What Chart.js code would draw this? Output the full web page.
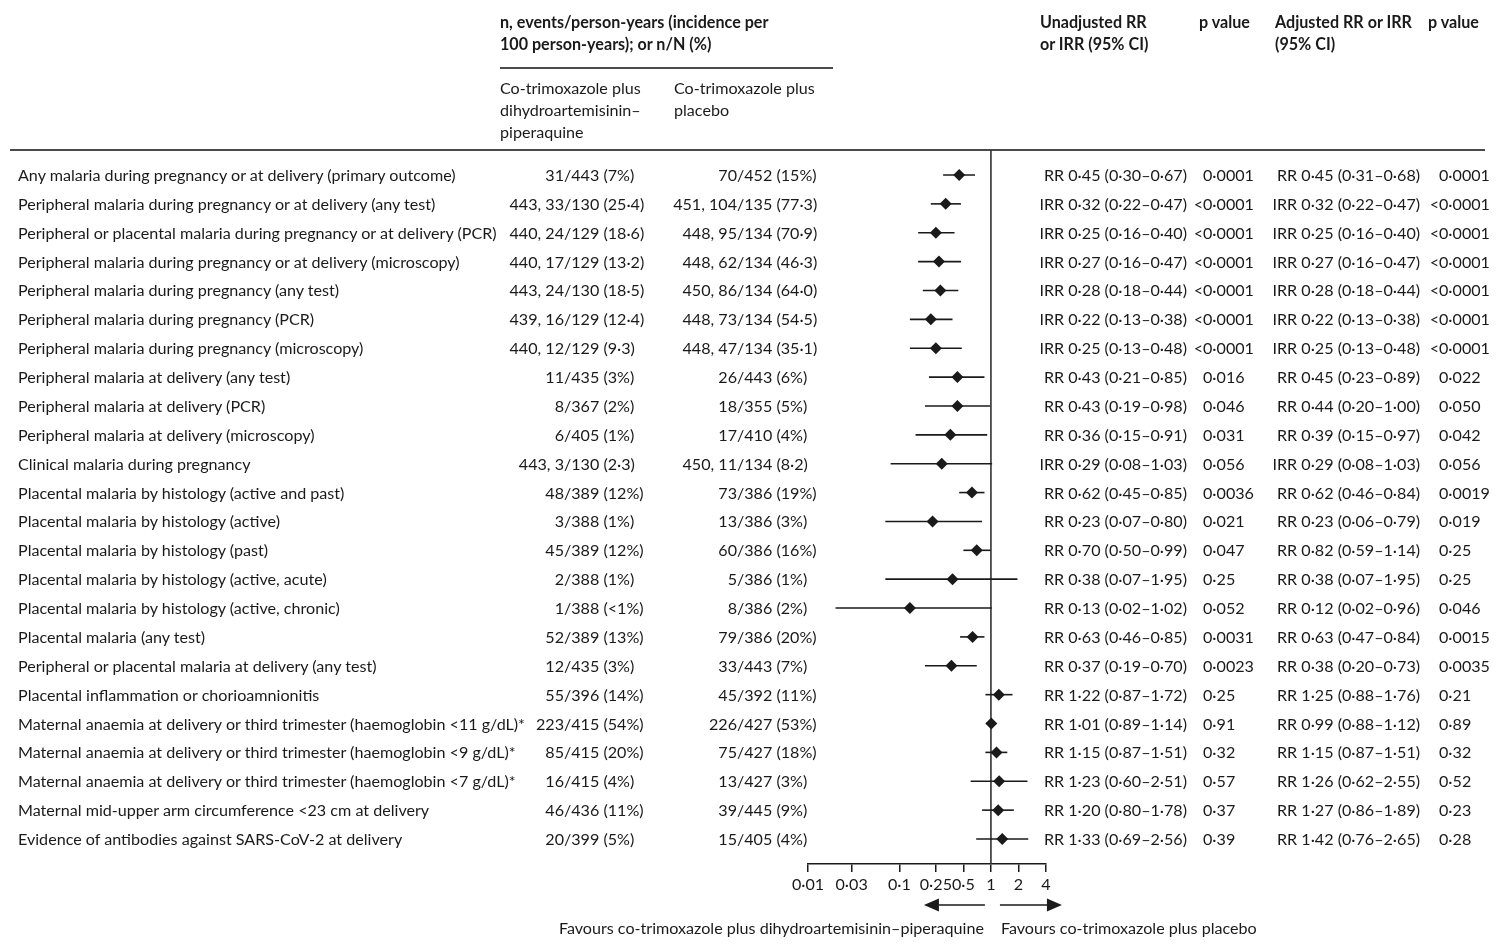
<!DOCTYPE html>
<html>
<head>
<meta charset="utf-8">
<script src="https://cdn.jsdelivr.net/npm/chart.js@4.4.1/dist/chart.umd.min.js"></script>
<style>
  html, body { margin: 0; padding: 0; background: #fff; }
  #wrap { position: relative; width: 1500px; height: 949px; overflow: hidden; font-family: Lato, "Noto Sans", sans-serif; color: #1a1a1a; }
  #chart { position: absolute; left: 0; top: 0; }
  .t { position: absolute; white-space: nowrap; height: 20px; line-height: 20px; }
  .hang { position: absolute; right: 100%; }
  .hd { font-weight: bold; }
</style>
</head>
<body>
<div id="wrap">
  <canvas id="chart" width="1500" height="949"></canvas>
  <div id="overlay"></div>
</div>
<script>
const outcomes = [
  'Any malaria during pregnancy or at delivery (primary outcome)',
  'Peripheral malaria during pregnancy or at delivery (any test)',
  'Peripheral or placental malaria during pregnancy or at delivery (PCR)',
  'Peripheral malaria during pregnancy or at delivery (microscopy)',
  'Peripheral malaria during pregnancy (any test)',
  'Peripheral malaria during pregnancy (PCR)',
  'Peripheral malaria during pregnancy (microscopy)',
  'Peripheral malaria at delivery (any test)',
  'Peripheral malaria at delivery (PCR)',
  'Peripheral malaria at delivery (microscopy)',
  'Clinical malaria during pregnancy',
  'Placental malaria by histology (active and past)',
  'Placental malaria by histology (active)',
  'Placental malaria by histology (past)',
  'Placental malaria by histology (active, acute)',
  'Placental malaria by histology (active, chronic)',
  'Placental malaria (any test)',
  'Peripheral or placental malaria at delivery (any test)',
  'Placental inflammation or chorioamnionitis',
  'Maternal anaemia at delivery or third trimester (haemoglobin <11 g/dL)*',
  'Maternal anaemia at delivery or third trimester (haemoglobin <9 g/dL)*',
  'Maternal anaemia at delivery or third trimester (haemoglobin <7 g/dL)*',
  'Maternal mid-upper arm circumference <23 cm at delivery',
  'Evidence of antibodies against SARS-CoV-2 at delivery'
];

const dpCounts = [
  '31/443 (7%)', '443, 33/130 (25·4)', '440, 24/129 (18·6)', '440, 17/129 (13·2)',
  '443, 24/130 (18·5)', '439, 16/129 (12·4)', '440, 12/129 (9·3)', '11/435 (3%)',
  '8/367 (2%)', '6/405 (1%)', '443, 3/130 (2·3)', '48/389 (12%)',
  '3/388 (1%)', '45/389 (12%)', '2/388 (1%)', '1/388 (<1%)',
  '52/389 (13%)', '12/435 (3%)', '55/396 (14%)', '223/415 (54%)',
  '85/415 (20%)', '16/415 (4%)', '46/436 (11%)', '20/399 (5%)'
];

const placeboCounts = [
  '70/452 (15%)', '451, 104/135 (77·3)', '448, 95/134 (70·9)', '448, 62/134 (46·3)',
  '450, 86/134 (64·0)', '448, 73/134 (54·5)', '448, 47/134 (35·1)', '26/443 (6%)',
  '18/355 (5%)', '17/410 (4%)', '450, 11/134 (8·2)', '73/386 (19%)',
  '13/386 (3%)', '60/386 (16%)', '5/386 (1%)', '8/386 (2%)',
  '79/386 (20%)', '33/443 (7%)', '45/392 (11%)', '226/427 (53%)',
  '75/427 (18%)', '13/427 (3%)', '39/445 (9%)', '15/405 (4%)'
];

const measure = ['RR', 'IRR', 'IRR', 'IRR', 'IRR', 'IRR', 'IRR', 'RR', 'RR', 'RR', 'IRR', 'RR',
  'RR', 'RR', 'RR', 'RR', 'RR', 'RR', 'RR', 'RR', 'RR', 'RR', 'RR', 'RR'];

// unadjusted estimates (these are the ones plotted)
const rrEst  = [0.45, 0.32, 0.25, 0.27, 0.28, 0.22, 0.25, 0.43, 0.43, 0.36, 0.29, 0.62, 0.23, 0.70, 0.38, 0.13, 0.63, 0.37, 1.22, 1.01, 1.15, 1.23, 1.20, 1.33];
const rrLow  = [0.30, 0.22, 0.16, 0.16, 0.18, 0.13, 0.13, 0.21, 0.19, 0.15, 0.08, 0.45, 0.07, 0.50, 0.07, 0.02, 0.46, 0.19, 0.87, 0.89, 0.87, 0.60, 0.80, 0.69];
const rrHigh = [0.67, 0.47, 0.40, 0.47, 0.44, 0.38, 0.48, 0.85, 0.98, 0.91, 1.03, 0.85, 0.80, 0.99, 1.95, 1.02, 0.85, 0.70, 1.72, 1.14, 1.51, 2.51, 1.78, 2.56];
const pUnadj = ['0·0001', '<0·0001', '<0·0001', '<0·0001', '<0·0001', '<0·0001', '<0·0001', '0·016',
  '0·046', '0·031', '0·056', '0·0036', '0·021', '0·047', '0·25', '0·052',
  '0·0031', '0·0023', '0·25', '0·91', '0·32', '0·57', '0·37', '0·39'];

const adjEst  = [0.45, 0.32, 0.25, 0.27, 0.28, 0.22, 0.25, 0.45, 0.44, 0.39, 0.29, 0.62, 0.23, 0.82, 0.38, 0.12, 0.63, 0.38, 1.25, 0.99, 1.15, 1.26, 1.27, 1.42];
const adjLow  = [0.31, 0.22, 0.16, 0.16, 0.18, 0.13, 0.13, 0.23, 0.20, 0.15, 0.08, 0.46, 0.06, 0.59, 0.07, 0.02, 0.47, 0.20, 0.88, 0.88, 0.87, 0.62, 0.86, 0.76];
const adjHigh = [0.68, 0.47, 0.40, 0.47, 0.44, 0.38, 0.48, 0.89, 1.00, 0.97, 1.03, 0.84, 0.79, 1.14, 1.95, 0.96, 0.84, 0.73, 1.76, 1.12, 1.51, 2.55, 1.89, 2.65];
const pAdj = ['0·0001', '<0·0001', '<0·0001', '<0·0001', '<0·0001', '<0·0001', '<0·0001', '0·022',
  '0·050', '0·042', '0·056', '0·0019', '0·019', '0·25', '0·25', '0·046',
  '0·0015', '0·0035', '0·21', '0·89', '0·32', '0·52', '0·23', '0·28'];

const tickValues = [0.01, 0.03, 0.1, 0.25, 0.5, 1, 2, 4];

const W = 1500;
const yMin = -0.866, yMax = 23.866;
const ink = '#1a1a1a';

function fmt(v) { return v.toFixed(2).replace('.', '\u00b7'); }
function ciText(m, e, lo, hi) { return m + ' ' + fmt(e) + ' (' + fmt(lo) + '\u2013' + fmt(hi) + ')'; }

// pick a body size so the first label is about as wide as in the source
const mctx = document.createElement('canvas').getContext('2d');
mctx.font = '100px Lato';
const bodySize = Math.max(13, Math.min(17, 440 * 100 / mctx.measureText(outcomes[0]).width));
document.getElementById('wrap').style.fontSize = bodySize.toFixed(2) + 'px';

const overlay = document.getElementById('overlay');

function addText(txt, x, y, opts) {
  opts = opts || {};
  const d = document.createElement('div');
  d.className = 't' + (opts.cls ? ' ' + opts.cls : '');
  d.style.top = (y - 10) + 'px';
  if (opts.align === 'right') d.style.right = (W - x) + 'px';
  else d.style.left = x + 'px';
  if (opts.hang) {
    const s = document.createElement('span');
    s.className = 'hang';
    s.textContent = opts.hang;
    d.appendChild(s);
  }
  d.appendChild(document.createTextNode(txt));
  overlay.appendChild(d);
}

// counts are lined up on the slash
function addSlashed(txt, slashX, y) {
  const k = txt.indexOf('/');
  addText(txt.slice(0, k), slashX, y, { align: 'right' });
  addText(txt.slice(k), slashX, y);
}

function addHanging(txt, ch, x, y) {
  if (txt.startsWith(ch)) addText(txt.slice(ch.length), x, y, { hang: ch });
  else addText(txt, x, y);
}

let built = false;
function buildTable(chart) {
  const ys = chart.scales.y;
  const xs = chart.scales.x;

  // headers
  addText('n, events/person-years (incidence per', 500, 22, { cls: 'hd' });
  addText('100 person-years); or n/N (%)', 500, 44, { cls: 'hd' });
  addText('Co-trimoxazole plus', 500, 88);
  addText('dihydroartemisinin\u2013', 500, 110);
  addText('piperaquine', 500, 132);
  addText('Co-trimoxazole plus', 674, 88);
  addText('placebo', 674, 110);
  addText('Unadjusted RR', 1040, 22, { cls: 'hd' });
  addText('or IRR (95% CI)', 1040, 44, { cls: 'hd' });
  addText('p value', 1199, 22, { cls: 'hd' });
  addText('Adjusted RR or IRR', 1275, 22, { cls: 'hd' });
  addText('(95% CI)', 1275, 44, { cls: 'hd' });
  addText('p value', 1428, 22, { cls: 'hd' });

  outcomes.forEach((o, i) => {
    const y = ys.getPixelForValue(i);
    addText(o, 18, y);
    addSlashed(dpCounts[i], 564, y);
    addSlashed(placeboCounts[i], 737, y);
    addText(ciText(measure[i], rrEst[i], rrLow[i], rrHigh[i]), 1187, y, { align: 'right' });
    addHanging(pUnadj[i], '<', 1203, y);
    const adj = ciText(measure[i], adjEst[i], adjLow[i], adjHigh[i]);
    addHanging(adj, 'I', 1277, y);
    addHanging(pAdj[i], '<', 1439, y);
  });

  const one = xs.getPixelForValue(1);
  addText('Favours co-trimoxazole plus dihydroartemisinin\u2013piperaquine', one - 7, 928, { align: 'right' });
  addText('Favours co-trimoxazole plus placebo', one + 10, 928);
}

const tablePlugin = {
  id: 'tableText',
  beforeDraw(chart) {
    const ctx = chart.ctx;
    ctx.save();
    ctx.strokeStyle = '#4a4a4a';
    ctx.lineWidth = 2;
    ctx.beginPath();
    ctx.moveTo(500, 68); ctx.lineTo(833, 68);
    ctx.moveTo(10, 150); ctx.lineTo(1485, 150);
    ctx.stroke();
    ctx.restore();
  },
  afterDraw(chart) {
    const ctx = chart.ctx;
    const one = chart.scales.x.getPixelForValue(1);
    const ay = 905;
    ctx.save();
    ctx.strokeStyle = ink;
    ctx.fillStyle = ink;
    ctx.lineWidth = 1.6;
    ctx.beginPath();
    ctx.moveTo(one - 6, ay); ctx.lineTo(one - 52, ay);
    ctx.moveTo(one + 9, ay); ctx.lineTo(one + 58, ay);
    ctx.stroke();
    ctx.beginPath();
    ctx.moveTo(one - 67, ay); ctx.lineTo(one - 52, ay - 6.5); ctx.lineTo(one - 52, ay + 6.5); ctx.closePath();
    ctx.moveTo(one + 71, ay); ctx.lineTo(one + 56, ay - 6.5); ctx.lineTo(one + 56, ay + 6.5); ctx.closePath();
    ctx.fill();
    ctx.restore();
    if (!built) { built = true; buildTable(chart); }
  }
};

const diamonds = {
  data: rrEst.map((v, i) => ({ x: v, y: i })),
  pointStyle: 'rectRot',
  pointRadius: 6,
  backgroundColor: ink,
  borderWidth: 0,
  showLine: false
};

const ciLines = outcomes.map((o, i) => ({
  data: [{ x: rrLow[i], y: i }, { x: rrHigh[i], y: i }],
  showLine: true,
  borderColor: ink,
  borderWidth: 1.6,
  pointRadius: 0
}));

const refLine = {
  data: [{ x: 1, y: yMin }, { x: 1, y: yMax }],
  showLine: true,
  borderColor: '#333',
  borderWidth: 1.6,
  pointRadius: 0
};

new Chart(document.getElementById('chart'), {
  type: 'scatter',
  data: { datasets: [diamonds, ...ciLines, refLine] },
  options: {
    responsive: false,
    animation: false,
    events: [],
    layout: { padding: { left: 808, right: W - 1046, top: 150, bottom: 49 } },
    plugins: { legend: { display: false }, tooltip: { enabled: false } },
    scales: {
      x: {
        type: 'logarithmic',
        min: 0.01,
        max: 4,
        afterBuildTicks: s => { s.ticks = tickValues.map(v => ({ value: v })); },
        afterFit: s => { s.height = 36; },
        ticks: {
          callback: v => String(v).replace('.', '\u00b7'),
          autoSkip: false,
          maxRotation: 0,
          padding: 3,
          color: ink,
          font: { family: 'Lato', size: bodySize }
        },
        grid: { drawOnChartArea: false, drawTicks: true, tickLength: 8, color: ink, lineWidth: 1.5 },
        border: { display: true, color: ink, width: 1.5 }
      },
      y: { type: 'linear', min: yMin, max: yMax, reverse: true, display: false }
    }
  },
  plugins: [tablePlugin]
});
</script>
</body>
</html>
